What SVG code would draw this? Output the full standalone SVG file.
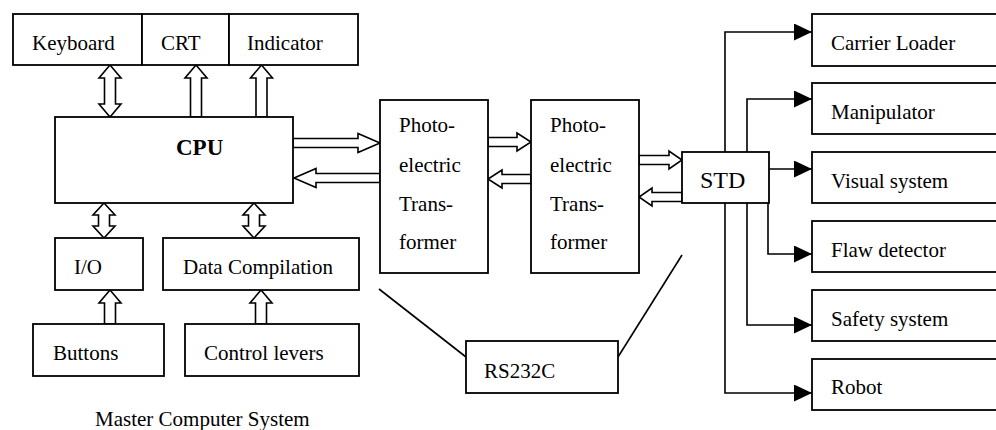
<svg xmlns="http://www.w3.org/2000/svg" width="996" height="430" viewBox="0 0 996 430">
<style>
.box{fill:#fff;stroke:#000;stroke-width:1.8}
.t{font-family:"Liberation Serif","Times New Roman",serif;font-size:21px;fill:#000}
.b{font-weight:bold;font-size:23px}
.big{font-size:24px}
.ar{fill:#fff;stroke:#000;stroke-width:1.6;stroke-linejoin:miter}
.ln{fill:none;stroke:#000;stroke-width:1.6}
</style>
<defs>
<marker id="tri" viewBox="0 0 18 17" refX="18" refY="8.5" markerUnits="userSpaceOnUse" markerWidth="18" markerHeight="17" orient="auto">
<path d="M0,0 L18,8.5 L0,17 Z" fill="#000"/>
</marker>
</defs>
<g id="connectors">
<!-- hollow block arrows -->
<path class="ar" d="M110,65 L121,78 L115.5,78 L115.5,104 L121,104 L110,117 L99,104 L104.5,104 L104.5,78 L99,78 Z"/>
<path class="ar" d="M196,65 L207,78 L201.5,78 L201.5,117 L190.5,117 L190.5,78 L185,78 Z"/>
<path class="ar" d="M261.5,65 L272.5,78 L267,78 L267,117 L256,117 L256,78 L250.5,78 Z"/>
<path class="ar" d="M104,203 L115,215 L109.5,215 L109.5,226 L115,226 L104,238 L93,226 L98.5,226 L98.5,215 L93,215 Z"/>
<path class="ar" d="M254,203 L265,215 L259.5,215 L259.5,226 L265,226 L254,238 L243,226 L248.5,226 L248.5,215 L243,215 Z"/>
<path class="ar" d="M110,290 L121,303 L115.5,303 L115.5,324 L104.5,324 L104.5,303 L99,303 Z"/>
<path class="ar" d="M261,290 L272,303 L266.5,303 L266.5,324 L255.5,324 L255.5,303 L250,303 Z"/>
<path class="ar" d="M293,138.5 L358,138.5 L358,133.5 L380,143 L358,152.5 L358,147.5 L293,147.5 Z"/>
<path class="ar" d="M380,173.5 L316,173.5 L316,168.5 L294,178 L316,187.5 L316,182.5 L380,182.5 Z"/>
<path class="ar" d="M488,137.5 L517,137.5 L517,133 L531,142 L517,151 L517,146.5 L488,146.5 Z"/>
<path class="ar" d="M531,174.5 L502,174.5 L502,170 L488,179 L502,188 L502,183.5 L531,183.5 Z"/>
<path class="ar" d="M639,155.5 L669,155.5 L669,151 L682,160 L669,169 L669,164.5 L639,164.5 Z"/>
<path class="ar" d="M682,192.5 L652,192.5 L652,188 L639,197 L652,206 L652,201.5 L682,201.5 Z"/>
<!-- RS232C lines -->
<path class="ln" d="M379,289 L466,357"/>
<path class="ln" d="M618,357 L682,255"/>
<!-- STD distribution -->
<path class="ln" d="M725,152 V32 H812" marker-end="url(#tri)"/>
<path class="ln" d="M747,152 V99 H812" marker-end="url(#tri)"/>
<path class="ln" d="M769,169 H812" marker-end="url(#tri)"/>
<path class="ln" d="M768,203 V254 H812" marker-end="url(#tri)"/>
<path class="ln" d="M747,203 V325 H812" marker-end="url(#tri)"/>
<path class="ln" d="M725,203 V393 H812" marker-end="url(#tri)"/>
</g>
<g id="keyboard"><rect class="box" x="13" y="14" width="129" height="51"/><text class="t" x="32" y="50">Keyboard</text></g>
<g id="crt"><rect class="box" x="142" y="14" width="87" height="51"/><text class="t" x="161" y="50">CRT</text></g>
<g id="indicator"><rect class="box" x="229" y="14" width="129" height="51"/><text class="t" x="247" y="50">Indicator</text></g>
<g id="cpu"><rect class="box" x="55" y="117" width="238" height="86"/><text class="t b" x="176" y="155">CPU</text></g>
<g id="io"><rect class="box" x="55" y="238" width="88" height="52"/><text class="t" x="74" y="274">I/O</text></g>
<g id="datacomp"><rect class="box" x="163" y="238" width="196" height="52"/><text class="t" x="183" y="274">Data Compilation</text></g>
<g id="buttons"><rect class="box" x="33" y="324" width="131" height="52"/><text class="t" x="53" y="360">Buttons</text></g>
<g id="levers"><rect class="box" x="185" y="324" width="174" height="52"/><text class="t" x="204" y="360">Control levers</text></g>
<g id="caption"><text class="t" x="95" y="426">Master Computer System</text></g>
<g id="photo1"><rect class="box" x="380" y="100" width="108" height="173"/>
<text class="t" x="399" y="132">Photo-</text><text class="t" x="399" y="172">electric</text><text class="t" x="399" y="211">Trans-</text><text class="t" x="399" y="249">former</text></g>
<g id="photo2"><rect class="box" x="531" y="100" width="108" height="173"/>
<text class="t" x="550" y="132">Photo-</text><text class="t" x="550" y="172">electric</text><text class="t" x="550" y="211">Trans-</text><text class="t" x="550" y="249">former</text></g>
<g id="std"><rect class="box" x="682" y="152" width="87" height="51"/><text class="t big" x="700" y="188">STD</text></g>
<g id="rs232c"><rect class="box" x="466" y="341" width="152" height="52"/><text class="t" x="484" y="378">RS232C</text></g>
<g id="carrier"><rect class="box" x="812" y="14" width="190" height="52"/><text class="t" x="831" y="50">Carrier Loader</text></g>
<g id="manipulator"><rect class="box" x="812" y="83" width="190" height="51"/><text class="t" x="831" y="119">Manipulator</text></g>
<g id="visual"><rect class="box" x="812" y="152" width="190" height="51"/><text class="t" x="831" y="188">Visual system</text></g>
<g id="flaw"><rect class="box" x="812" y="221" width="190" height="51"/><text class="t" x="831" y="257">Flaw detector</text></g>
<g id="safety"><rect class="box" x="812" y="290" width="190" height="51"/><text class="t" x="831" y="326">Safety system</text></g>
<g id="robot"><rect class="box" x="812" y="359" width="190" height="51"/><text class="t" x="831" y="394">Robot</text></g>
</svg>
